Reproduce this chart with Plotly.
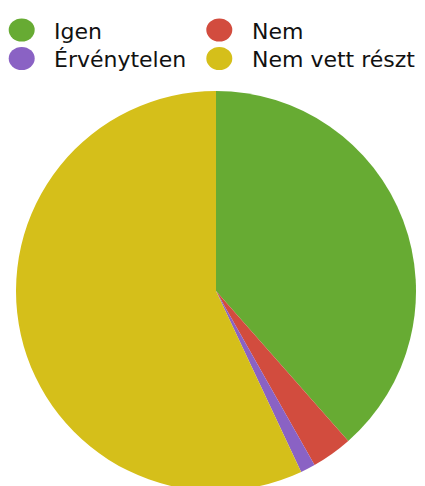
import plotly.graph_objects as go

labels = ["Igen", "Nem", "Érvénytelen", "Nem vett részt"]
values = [38.5, 3.3, 1.2, 57.0]
colors = ["#67ab33", "#d24c3e", "#8a62c4", "#d5bf1a"]

W, H = 425, 491  # slightly taller than the window so the pie's bottom is clipped like the reference

fig = go.Figure()
fig.add_trace(go.Pie(
    labels=labels, values=values, sort=False, direction="clockwise", rotation=0,
    marker=dict(colors=colors, line=dict(width=0)),
    textinfo="none", hoverinfo="label+percent", showlegend=False,
    domain=dict(x=[16 / W, 416 / W], y=[0, 400 / H]),
))

# manual legend (two columns, circular markers)
legend_pos = [(21.7, 30.0), (219.3, 30.0), (21.7, 58.5), (219.3, 58.5)]
shapes = []
annotations = []
for (cx, cy), lab, col in zip(legend_pos, labels, colors):
    shapes.append(dict(type="circle", xref="paper", yref="paper",
                       x0=(cx - 13) / W, x1=(cx + 13) / W,
                       y0=1 - (cy + 11.5) / H, y1=1 - (cy - 11.5) / H,
                       fillcolor=col, line=dict(width=0)))
    annotations.append(dict(text=lab, xref="paper", yref="paper",
                            x=(cx + 30.5) / W, y=1 - (cy + 1.0) / H,
                            xanchor="left", yanchor="middle", showarrow=False,
                            font=dict(family="DejaVu Sans", size=22, color="#111111")))

fig.update_layout(
    width=W, height=H,
    margin=dict(l=0, r=0, t=0, b=0),
    paper_bgcolor="white", plot_bgcolor="white",
    shapes=shapes, annotations=annotations,
)

fig.write_html("out.html", config={"displayModeBar": False},
               post_script="document.body.style.margin='0';document.body.style.overflow='hidden';")
